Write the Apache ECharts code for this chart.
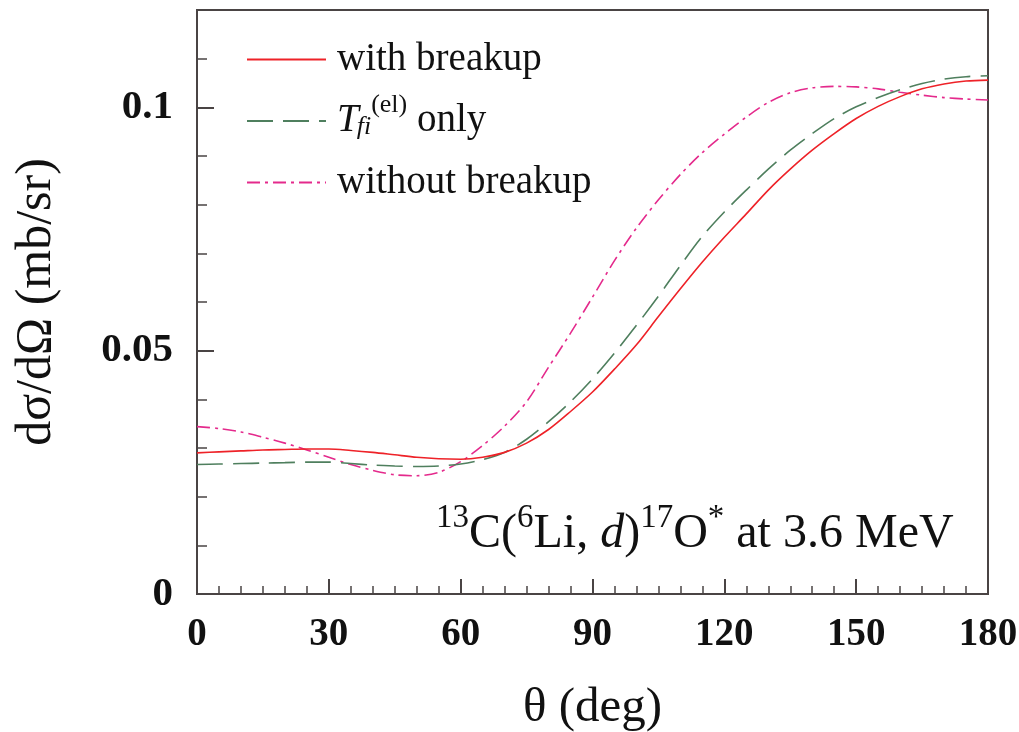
<!DOCTYPE html>
<html>
<head>
<meta charset="utf-8">
<script src="https://cdn.jsdelivr.net/npm/echarts@6/dist/echarts.min.js"></script>
<style>html,body{margin:0;padding:0;background:#fff}#c{width:1019px;height:732px}</style>
</head>
<body>
<div id="c"></div>
<script>
// angle grid (deg)
const theta = [0,5,10,15,20,25,30,35,40,45,50,55,60,65,70,75,80,85,90,95,100,105,110,115,120,125,130,135,140,145,150,155,160,165,170,175,180];
// with breakup
const withBreakup = [0.0290,0.0292,0.0294,0.0296,0.0297,0.0298,0.0298,0.0295,0.0291,0.0286,0.0281,0.0278,0.0277,0.0281,0.0291,0.0310,0.0338,0.0375,0.0415,0.0462,0.0512,0.0570,0.0627,0.0682,0.0733,0.0781,0.0830,0.0873,0.0912,0.0946,0.0977,0.1002,0.1022,0.1038,0.1048,0.1054,0.1056];
// T_fi^(el) only
const tfiOnly = [0.0266,0.0267,0.0268,0.0269,0.0270,0.0271,0.0271,0.0268,0.0265,0.0263,0.0262,0.0263,0.0267,0.0276,0.0291,0.0318,0.0354,0.0395,0.0442,0.0495,0.0552,0.0612,0.0675,0.0735,0.0785,0.0830,0.0873,0.0912,0.0946,0.0977,0.1001,0.1020,0.1036,0.1049,0.1058,0.1063,0.1065];
// without breakup
const withoutBreakup = [0.0344,0.0340,0.0333,0.0322,0.0310,0.0296,0.0281,0.0266,0.0254,0.0245,0.0243,0.0250,0.0272,0.0305,0.0345,0.0395,0.0466,0.0536,0.0610,0.0685,0.0752,0.0810,0.0862,0.0907,0.0945,0.0980,0.1010,0.1030,0.1040,0.1043,0.1042,0.1038,0.1031,0.1025,0.1020,0.1017,0.1015];
const seriesNames = ['with breakup', 'Tfi', 'without breakup'];
const xTicks = [0,30,60,90,120,150,180];
const yTicks = [0,0.05,0.1];

const FONT = '"Liberation Serif", "Times New Roman", serif';
const AX = '#4a4444';
const toPairs = (ys) => theta.map((t, i) => [t, ys[i]]);

const chart = echarts.init(document.getElementById('c'), null, {renderer: 'canvas'});

function legendFor(name, top, pad) {
  return {
    data: [name], left: 246, top: top, orient: 'vertical',
    itemWidth: 79, itemHeight: 20, itemGap: 0, padding: 0,
    selectedMode: false,
    itemStyle: {opacity: 0},
    textStyle: {
      fontFamily: FONT, fontSize: 39, color: '#111', padding: pad,
      rich: {
        i: {fontFamily: FONT, fontStyle: 'italic', fontSize: 39, color: '#111', verticalAlign: 'bottom', lineHeight: 48},
        sub: {fontFamily: FONT, fontStyle: 'italic', fontSize: 26, color: '#111', verticalAlign: 'bottom', lineHeight: 48, padding: [0,0,0,-2]},
        sup: {fontFamily: FONT, fontSize: 26, color: '#111', verticalAlign: 'top', lineHeight: 48},
        n: {fontFamily: FONT, fontSize: 39, color: '#111', verticalAlign: 'bottom', lineHeight: 48}
      }
    },
    formatter: (n) => n === 'Tfi' ? '{i|T}{sub|fi}{sup|(el)}{n| only}' : n
  };
}

const option = {
  animation: false,
  backgroundColor: '#fff',
  grid: {left: 197, right: 31, top: 10, bottom: 138, show: true, borderColor: AX, borderWidth: 2,
    backgroundColor: 'transparent', containLabel: false, outerBoundsMode: 'none'},
  legend: [
    legendFor('with breakup', 40, [0,0,0,6]),
    legendFor('Tfi', 92, [0,0,10,6]),
    legendFor('without breakup', 163, [0,0,0,6])
  ],
  xAxis: {
    type: 'value', min: 0, max: 180, interval: 30,
    name: 'θ (deg)', nameLocation: 'middle', nameGap: 90,
    nameTextStyle: {fontFamily: FONT, fontSize: 49, color: '#111'},
    axisLine: {show: true, lineStyle: {color: AX, width: 2}},
    axisTick: {show: true, inside: true, length: 15, lineStyle: {color: AX, width: 2}},
    minorTick: {show: true, splitNumber: 6, length: 8, lineStyle: {color: AX, width: 1.5}},
    splitLine: {show: false},
    axisLabel: {fontFamily: FONT, fontWeight: 'bold', fontSize: 39, color: '#111', margin: 21,
      formatter: (v) => xTicks.includes(v) ? String(v) : ''}
  },
  yAxis: [{
    type: 'value', min: 0, max: 0.12, interval: 0.05,
    name: 'dσ/dΩ (mb/sr)', nameLocation: 'middle', nameGap: 135, nameRotate: 90,
    nameTextStyle: {fontFamily: FONT, fontSize: 50, color: '#111'},
    axisLine: {show: true, lineStyle: {color: AX, width: 2}},
    axisTick: {show: true, inside: true, length: 17, lineStyle: {color: AX, width: 2}},
    splitLine: {show: false},
    axisLabel: {fontFamily: FONT, fontWeight: 'bold', fontSize: 41, color: '#111', margin: 24, showMaxLabel: false,
      formatter: (v) => yTicks.some(t => Math.abs(t - v) < 1e-9) ? String(v) : ''}
  }, {
    type: 'value', min: 0, max: 0.12, interval: 0.01, position: 'left',
    axisLine: {show: false},
    axisTick: {show: true, inside: true, length: 10, lineStyle: {color: AX, width: 1.5}},
    axisLabel: {show: false}, splitLine: {show: false}
  }],
  series: [
    {name: 'with breakup', type: 'line', data: toPairs(withBreakup), smooth: 0.3, symbol: 'none',
      lineStyle: {color: '#ee2228', width: 1.6, type: 'solid'}, itemStyle: {color: '#ee2228'}, z: 3},
    {name: 'Tfi', type: 'line', data: toPairs(tfiOnly), smooth: 0.3, symbol: 'none',
      lineStyle: {color: '#4f7f5e', width: 1.6, type: [26, 10]}, itemStyle: {color: '#4f7f5e'}, z: 2},
    {name: 'without breakup', type: 'line', data: toPairs(withoutBreakup), smooth: 0.3, symbol: 'none',
      lineStyle: {color: '#e42a8c', width: 1.6, type: [13, 5, 3, 5]}, itemStyle: {color: '#e42a8c'}, z: 1}
  ],
  graphic: [{
    type: 'text', left: 436, top: 502, silent: true,
    style: {
      text: '{s|13}{n|C(}{s|6}{n|Li, }{it|d}{n|)}{s|17}{n|O}{s|*}{n| at 3.6 MeV}',
      fill: '#111',
      rich: {
        n: {fontFamily: FONT, fontSize: 48, fill: '#111', verticalAlign: 'bottom', lineHeight: 56},
        it: {fontFamily: FONT, fontSize: 48, fontStyle: 'italic', fill: '#111', verticalAlign: 'bottom', lineHeight: 56},
        s: {fontFamily: FONT, fontSize: 33, fill: '#111', verticalAlign: 'top', lineHeight: 56}
      }
    }
  }]
};
chart.setOption(option);
</script>
</body>
</html>
